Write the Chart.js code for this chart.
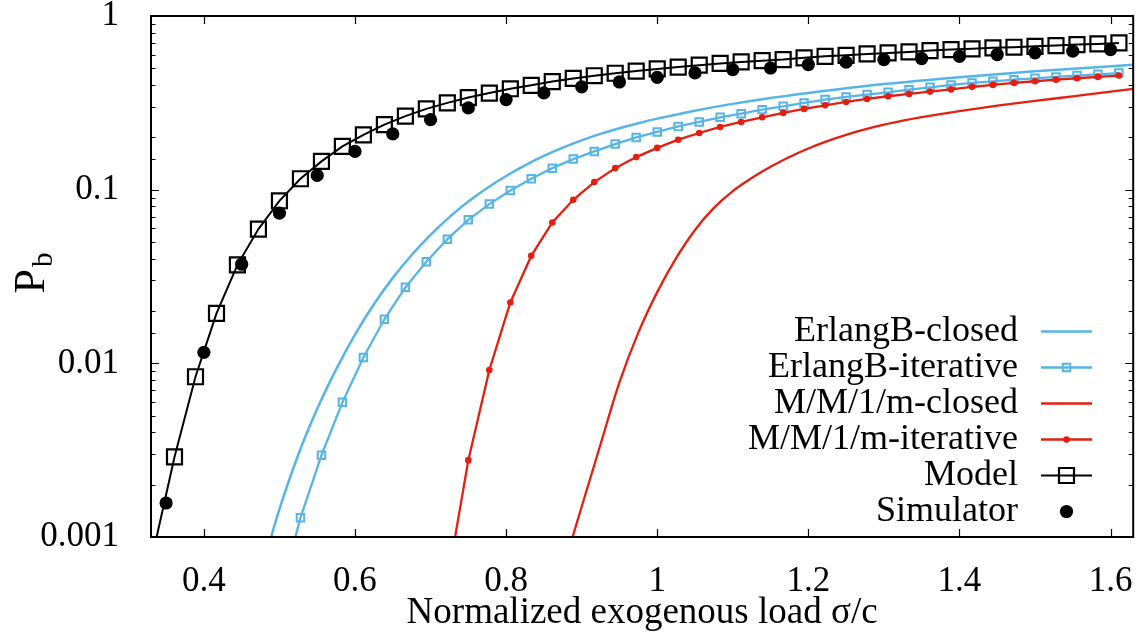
<!DOCTYPE html>
<html>
<head>
<meta charset="utf-8">
<script src="https://cdn.jsdelivr.net/npm/chart.js@4/dist/chart.umd.min.js"></script>
<style>
  html, body { margin: 0; padding: 0; background: #ffffff; }
  #wrap { width: 1146px; height: 635px; }
</style>
</head>
<body>
<div id="wrap"><canvas id="pb" width="1146" height="635"></canvas></div>
<script>
// Load grid used by the model and the iterative solvers (sigma/c in steps of 1/36)
const gridLoad = [0.3333, 0.3611, 0.3889, 0.4167, 0.4444, 0.4722, 0.5, 0.5278, 0.5556, 0.5833,
  0.6111, 0.6389, 0.6667, 0.6944, 0.7222, 0.75, 0.7778, 0.8056, 0.8333, 0.8611,
  0.8889, 0.9167, 0.9444, 0.9722, 1, 1.0278, 1.0556, 1.0833, 1.1111, 1.1389,
  1.1667, 1.1944, 1.2222, 1.25, 1.2778, 1.3056, 1.3333, 1.3611, 1.3889, 1.4167,
  1.4444, 1.4722, 1.5, 1.5278, 1.5556, 1.5833, 1.6111];

// Model blocking probability on the full grid
const modelPb = [0.00083, 0.00289, 0.00837, 0.0194, 0.0369, 0.0593, 0.0863, 0.1156, 0.1455, 0.1775,
  0.207, 0.237, 0.265, 0.292, 0.316, 0.339, 0.360, 0.381, 0.399, 0.419,
  0.437, 0.453, 0.468, 0.482, 0.496, 0.508, 0.521, 0.533, 0.544, 0.553,
  0.561, 0.574, 0.586, 0.594, 0.605, 0.613, 0.621, 0.632, 0.641, 0.647,
  0.656, 0.661, 0.669, 0.676, 0.685, 0.691, 0.700];

// ErlangB iterative: grid points from 0.5 upward
const erlangIterStart = 6;
const erlangIterPb = [0.00045, 0.00129, 0.00296, 0.00596, 0.0108, 0.01794, 0.0274, 0.0385, 0.0519, 0.067,
  0.0826, 0.0989, 0.1156, 0.133, 0.150, 0.166, 0.183, 0.200, 0.215, 0.2314,
  0.2455, 0.261, 0.274, 0.289, 0.302, 0.3157, 0.330, 0.342, 0.3527, 0.3636,
  0.3767, 0.3884, 0.401, 0.412, 0.4207, 0.430, 0.4377, 0.446, 0.4537, 0.4617, 0.469];

// M/M/1/m iterative: grid points from 0.7222 upward
const mm1IterStart = 14;
const mm1IterPb = [0.00055, 0.00277, 0.00915, 0.0224, 0.0416, 0.0647, 0.0874, 0.1106, 0.133, 0.154,
  0.174, 0.194, 0.212, 0.2297, 0.2455, 0.261, 0.2767, 0.2917, 0.306, 0.32,
  0.333, 0.345, 0.356, 0.367, 0.378, 0.391, 0.401, 0.412, 0.421, 0.430,
  0.438, 0.446, 0.454];

// Closed-form curves
const erlangClosedLoad = [0.483, 0.489, 0.5, 0.525, 0.55, 0.575, 0.6, 0.625, 0.65, 0.675,
  0.7, 0.725, 0.75, 0.775, 0.8, 0.825, 0.85, 0.875, 0.9, 0.925,
  0.95, 0.975, 1.0, 1.05, 1.1, 1.15, 1.2, 1.3, 1.4, 1.5, 1.63];
const erlangClosedPb = [0.000802, 0.001, 0.001445, 0.002985, 0.00547, 0.00923, 0.01462, 0.02188, 0.03105, 0.04207,
  0.05495, 0.0695, 0.0855, 0.1023, 0.1199, 0.1380, 0.1563, 0.1746, 0.1923, 0.2094,
  0.2259, 0.2415, 0.2564, 0.2851, 0.3119, 0.3373, 0.3606, 0.4055, 0.4446, 0.4808, 0.5236];

const mm1ClosedLoad = [0.882, 0.888, 0.9, 0.925, 0.95, 0.975, 1.0, 1.025, 1.05, 1.075,
  1.1, 1.125, 1.15, 1.175, 1.2, 1.225, 1.25, 1.275, 1.3, 1.325,
  1.35, 1.4, 1.45, 1.5, 1.55, 1.63];
const mm1ClosedPb = [0.000818, 0.001, 0.001493, 0.00342, 0.00776, 0.01503, 0.0257, 0.0403, 0.0586, 0.0785,
  0.0982, 0.1167, 0.1355, 0.1542, 0.1726, 0.1904, 0.2070, 0.2223, 0.2366, 0.2495,
  0.2616, 0.2835, 0.3044, 0.3246, 0.3446, 0.3802];

// Simulation results
const simLoad = [0.35, 0.40, 0.45, 0.50, 0.55, 0.60, 0.65, 0.70, 0.75, 0.80, 0.85, 0.90, 0.95,
  1.00, 1.05, 1.10, 1.15, 1.20, 1.25, 1.30, 1.35, 1.40, 1.45, 1.50, 1.55, 1.60];
const simPb = [0.00157, 0.01157, 0.0372, 0.0733, 0.1208, 0.166, 0.2094, 0.253, 0.2955, 0.33, 0.3605, 0.391, 0.417,
  0.4436, 0.47, 0.491, 0.502, 0.525, 0.542, 0.561, 0.569, 0.586, 0.6, 0.614, 0.627, 0.641];

// Axis ticks
const xTicks = [0.4, 0.6, 0.8, 1.0, 1.2, 1.4, 1.6];
const xTickLabels = ['0.4', '0.6', '0.8', '1', '1.2', '1.4', '1.6'];
const yMajorTicks = [0.001, 0.01, 0.1, 1];
const yTickLabels = ['0.001', '0.01', '0.1', '1'];

const BLUE = '#56b4e9';
const RED = '#e51e10';
const FONT = '"Liberation Serif", "Times New Roman", serif';

const pairs = (xs, ys) => ys.map((v, i) => ({ x: xs[i], y: v }));

const datasets = [
  {
    label: 'ErlangB-closed', data: pairs(erlangClosedLoad, erlangClosedPb),
    borderColor: BLUE, borderWidth: 2.5, showLine: true, pointRadius: 0,
    cubicInterpolationMode: 'monotone', order: 5
  },
  {
    label: 'ErlangB-iterative', data: pairs(gridLoad.slice(erlangIterStart), erlangIterPb),
    borderColor: BLUE, borderWidth: 2.3, showLine: true,
    pointStyle: 'rect', pointRadius: 5.3, pointBorderWidth: 2,
    pointBorderColor: BLUE, pointBackgroundColor: 'rgba(0,0,0,0)', order: 4
  },
  {
    label: 'M/M/1/m-closed', data: pairs(mm1ClosedLoad, mm1ClosedPb),
    borderColor: RED, borderWidth: 2.3, showLine: true, pointRadius: 0,
    cubicInterpolationMode: 'monotone', order: 3
  },
  {
    label: 'M/M/1/m-iterative', data: pairs(gridLoad.slice(mm1IterStart), mm1IterPb),
    borderColor: RED, borderWidth: 2.3, showLine: true,
    pointStyle: 'circle', pointRadius: 3.3, pointBorderWidth: 0,
    pointBackgroundColor: RED, order: 2
  },
  {
    label: 'Model', data: pairs(gridLoad, modelPb),
    borderColor: '#000', borderWidth: 2, showLine: true,
    pointStyle: 'rect', pointRadius: 10.6, pointBorderWidth: 2.2,
    pointBorderColor: '#000', pointBackgroundColor: 'rgba(0,0,0,0)', order: 1
  },
  {
    label: 'Simulator', data: pairs(simLoad, simPb),
    showLine: false, borderWidth: 0,
    pointStyle: 'circle', pointRadius: 6.6, pointBorderWidth: 0,
    pointBackgroundColor: '#000', order: 0
  }
];
datasets.forEach(d => { d.clip = 0; d.tension = 0; d.pointHoverRadius = d.pointRadius; });

// Inward tick marks on all four sides plus the frame
const frameTicks = {
  id: 'frameTicks',
  afterDatasetsDraw(chart) {
    const { ctx, chartArea: a, scales: { x, y } } = chart;
    ctx.save();
    ctx.strokeStyle = '#000';
    ctx.lineWidth = 1.2;
    ctx.beginPath();
    x.ticks.forEach(t => {
      const px = Math.round(x.getPixelForValue(t.value)) + 0.5;
      ctx.moveTo(px, a.bottom); ctx.lineTo(px, a.bottom - 8);
      ctx.moveTo(px, a.top); ctx.lineTo(px, a.top + 8);
    });
    y.ticks.forEach(t => {
      const lg = Math.log10(t.value);
      const major = Math.abs(lg - Math.round(lg)) < 1e-6;
      const len = major ? 8 : 4.5;
      const py = Math.round(y.getPixelForValue(t.value)) + 0.5;
      ctx.moveTo(a.left, py); ctx.lineTo(a.left + len, py);
      ctx.moveTo(a.right, py); ctx.lineTo(a.right - len, py);
    });
    ctx.stroke();
    ctx.lineWidth = 2;
    ctx.strokeRect(a.left, a.top, a.right - a.left, a.bottom - a.top);
    ctx.restore();
  }
};

// Key in the lower right corner: text right-aligned, sample to its right
const keyBox = {
  id: 'keyBox',
  afterDraw(chart) {
    const ctx = chart.ctx;
    const textRight = 1018, sampleL = 1041, sampleR = 1092, top = 331.5, step = 36;
    ctx.save();
    ctx.font = '36px ' + FONT;
    ctx.textAlign = 'right';
    ctx.textBaseline = 'middle';
    chart.data.datasets.forEach((ds, i) => {
      const yy = top + i * step;
      ctx.fillStyle = '#000';
      ctx.fillText(ds.label, textRight, yy);
      if (ds.showLine) {
        ctx.strokeStyle = ds.borderColor;
        ctx.lineWidth = ds.borderWidth;
        ctx.beginPath(); ctx.moveTo(sampleL, yy); ctx.lineTo(sampleR, yy); ctx.stroke();
      }
      if (ds.pointRadius > 0) {
        ctx.fillStyle = ds.pointBackgroundColor;
        ctx.strokeStyle = ds.pointBorderColor || ds.pointBackgroundColor;
        ctx.lineWidth = ds.pointBorderWidth;
        Chart.helpers.drawPoint(ctx, {
          pointStyle: ds.pointStyle, radius: ds.pointRadius, rotation: 0,
          borderWidth: ds.pointBorderWidth
        }, (sampleL + sampleR) / 2, yy);
      }
    });
    ctx.restore();
  }
};

// Vertical axis title P with subscript b
const yTitle = {
  id: 'yTitle',
  afterDraw(chart) {
    const ctx = chart.ctx;
    ctx.save();
    ctx.translate(44, 280);
    ctx.rotate(-Math.PI / 2);
    ctx.fillStyle = '#000';
    ctx.textBaseline = 'alphabetic';
    ctx.font = '44px ' + FONT;
    ctx.textAlign = 'right';
    ctx.fillText('P', 11, 0);
    ctx.font = '29px ' + FONT;
    ctx.textAlign = 'left';
    ctx.fillText('b', 13, 8);
    ctx.restore();
  }
};

new Chart(document.getElementById('pb'), {
  type: 'scatter',
  data: { datasets },
  options: {
    responsive: false,
    animation: false,
    devicePixelRatio: 1,
    layout: { padding: { top: 16, right: 11, left: 0, bottom: 0 } },
    plugins: { legend: { display: false }, tooltip: { enabled: false } },
    events: [],
    scales: {
      x: {
        type: 'linear', min: 0.33, max: 1.63,
        grid: { display: false }, border: { display: false },
        afterBuildTicks: s => { s.ticks = xTicks.map(v => ({ value: v })); },
        afterFit: s => { s.height = 98; s.paddingLeft = 0; s.paddingRight = 0; },
        ticks: {
          autoSkip: false, maxRotation: 0, padding: 16, color: '#000',
          font: { family: FONT, size: 35 },
          callback: (v, i) => xTickLabels[i]
        },
        title: {
          display: true, text: 'Normalized exogenous load σ/c', color: '#000',
          font: { family: FONT, size: 37 }, padding: { top: 0, bottom: 0 }
        }
      },
      y: {
        type: 'logarithmic', min: 0.001, max: 1,
        grid: { display: false }, border: { display: false },
        afterFit: s => { s.width = 151; s.paddingTop = 0; s.paddingBottom = 0; },
        ticks: {
          autoSkip: false, padding: 24, color: '#000',
          font: { family: FONT, size: 35 },
          callback: v => {
            const k = yMajorTicks.findIndex(m => Math.abs(Math.log10(v) - Math.log10(m)) < 1e-6);
            return k >= 0 ? yTickLabels[k] : '';
          }
        }
      }
    }
  },
  plugins: [frameTicks, keyBox, yTitle]
});
</script>
</body>
</html>
